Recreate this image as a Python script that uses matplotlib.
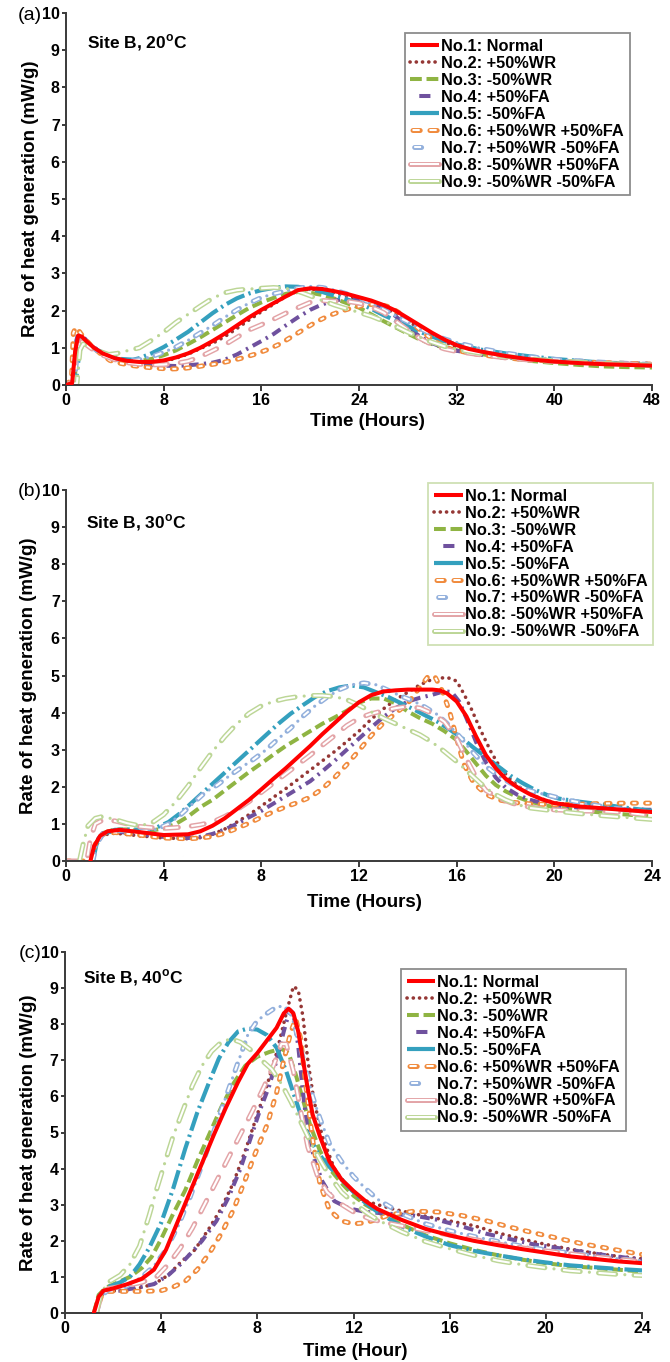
import matplotlib
matplotlib.use('Agg')
import matplotlib.pyplot as plt
from matplotlib.lines import Line2D

plt.rcParams['font.family'] = ['Liberation Sans', 'DejaVu Sans']
plt.rcParams['font.weight'] = 'bold'
plt.rcParams['lines.scale_dashes'] = False
plt.rcParams['mathtext.fontset'] = 'custom'
plt.rcParams['mathtext.rm'] = 'Liberation Sans'
plt.rcParams['mathtext.bf'] = 'Liberation Sans:bold'

labels = ['No.1: Normal', 'No.2: +50%WR', 'No.3: -50%WR', 'No.4: +50%FA',
          'No.5: -50%FA', 'No.6: +50%WR +50%FA', 'No.7: +50%WR -50%FA',
          'No.8: -50%WR +50%FA', 'No.9: -50%WR -50%FA']
colors = ['#FF0000', '#953735', '#8FB443', '#6F519E', '#34A0BE',
          '#F08A3C', '#93B0DC', '#E3A4A7', '#BCD696']

# ---- (a) Site B, 20 C ----
a1_t = [0, 0.5, 0.75, 1.0, 1.3, 1.7, 2.3, 3, 4, 5, 6, 7, 8, 9, 10, 11, 12, 13, 14, 15, 16, 17, 18, 19, 20, 21, 22, 23, 24, 25, 26, 27, 28, 29, 30, 31, 32, 33, 34, 36, 38, 40, 42, 44, 46, 48]
a1_q = [0, 0.05, 0.9, 1.33, 1.3, 1.17, 1.0, 0.85, 0.72, 0.65, 0.62, 0.62, 0.66, 0.74, 0.85, 1.0, 1.18, 1.38, 1.6, 1.82, 2.02, 2.2, 2.38, 2.55, 2.6, 2.58, 2.52, 2.45, 2.36, 2.27, 2.15, 2.0, 1.8, 1.6, 1.4, 1.22, 1.07, 0.97, 0.9, 0.78, 0.69, 0.63, 0.59, 0.56, 0.54, 0.52]
a2_t = [0, 0.6, 0.85, 1.1, 1.5, 2.3, 3, 4, 5, 6, 7, 8, 9, 10, 11, 12, 13, 14, 15, 16, 17, 18, 19, 20, 21, 22, 23, 24, 25, 26, 27, 28, 29, 30, 31, 32, 34, 36, 38, 40, 44, 48]
a2_q = [0, 0.1, 1.1, 1.3, 1.2, 1.0, 0.85, 0.7, 0.63, 0.6, 0.6, 0.63, 0.72, 0.83, 0.98, 1.12, 1.3, 1.52, 1.75, 1.97, 2.17, 2.38, 2.53, 2.58, 2.55, 2.48, 2.4, 2.3, 2.2, 2.08, 1.92, 1.72, 1.52, 1.33, 1.16, 1.02, 0.86, 0.76, 0.69, 0.64, 0.58, 0.55]
a3_t = [0, 0.7, 0.95, 1.2, 1.6, 2.3, 3, 4, 5, 6, 7, 8, 9, 10, 11, 12, 13, 14, 15, 16, 17, 18, 19, 20, 21, 22, 23, 24, 25, 26, 27, 28, 29, 30, 31, 32, 34, 36, 38, 40, 42, 44, 46, 48]
a3_q = [0, 0.1, 1.15, 1.25, 1.15, 0.98, 0.85, 0.72, 0.65, 0.64, 0.7, 0.8, 0.93, 1.1, 1.28, 1.48, 1.68, 1.88, 2.07, 2.22, 2.34, 2.45, 2.5, 2.48, 2.42, 2.32, 2.2, 2.08, 1.9, 1.72, 1.55, 1.38, 1.22, 1.1, 1.0, 0.93, 0.83, 0.74, 0.65, 0.59, 0.54, 0.5, 0.48, 0.47]
a4_t = [0, 0.6, 0.85, 1.05, 1.4, 2, 3, 4, 5, 6, 7, 8, 9, 10, 11, 12, 13, 14, 15, 16, 17, 18, 19, 20, 21, 22, 23, 24, 25, 26, 27, 28, 29, 30, 31, 32, 34, 36, 38, 40, 44, 48]
a4_q = [0, 0.1, 1.2, 1.45, 1.3, 1.08, 0.85, 0.7, 0.62, 0.57, 0.54, 0.52, 0.51, 0.53, 0.56, 0.6, 0.68, 0.82, 1.0, 1.18, 1.37, 1.6, 1.82, 2.02, 2.17, 2.27, 2.32, 2.3, 2.22, 2.08, 1.85, 1.55, 1.3, 1.12, 1.0, 0.92, 0.81, 0.74, 0.68, 0.64, 0.6, 0.57]
a5_t = [0, 0.8, 1.1, 1.4, 1.8, 2.5, 3.5, 4.5, 5.5, 6, 7, 8, 9, 10, 11, 12, 13, 14, 15, 16, 17, 18, 19, 20, 21, 22, 23, 24, 25, 26, 27, 28, 29, 30, 31, 32, 34, 36, 38, 40, 42, 44, 46, 48]
a5_q = [0, 0.05, 0.9, 1.12, 1.08, 0.95, 0.8, 0.7, 0.68, 0.72, 0.85, 1.02, 1.22, 1.43, 1.68, 1.93, 2.15, 2.33, 2.46, 2.55, 2.61, 2.65, 2.64, 2.58, 2.5, 2.4, 2.3, 2.2, 2.05, 1.88, 1.73, 1.58, 1.43, 1.3, 1.18, 1.09, 0.95, 0.85, 0.77, 0.7, 0.65, 0.6, 0.56, 0.52]
a6_t = [0, 0.45, 0.6, 0.8, 1.0, 1.4, 2, 2.8, 3.6, 4.5, 5.5, 6.5, 7.5, 8.5, 9.5, 10.5, 11.5, 12.5, 13.5, 14.5, 15.5, 16.5, 17.5, 18.5, 19.5, 20.5, 21.5, 22.5, 23.5, 24.5, 25.5, 26.5, 27.5, 28.5, 29.5, 30.5, 31.5, 33, 35, 37, 40, 44, 48]
a6_q = [0, 0.15, 1.4, 1.55, 1.48, 1.3, 1.08, 0.85, 0.66, 0.58, 0.52, 0.48, 0.45, 0.43, 0.44, 0.48, 0.53, 0.58, 0.65, 0.73, 0.83, 0.95, 1.1, 1.3, 1.5, 1.7, 1.86, 1.98, 2.08, 2.15, 2.18, 2.1, 1.9, 1.62, 1.35, 1.12, 0.97, 0.86, 0.77, 0.7, 0.64, 0.6, 0.56]
a7_t = [0, 0.7, 0.95, 1.2, 1.6, 2.3, 3, 4, 5, 6, 7, 8, 9, 10, 11, 12, 13, 14, 15, 16, 17, 18, 19, 20, 21, 22, 23, 24, 25, 26, 27, 28, 29, 30, 31, 32, 34, 36, 38, 40, 44, 48]
a7_q = [0, 0.05, 1.0, 1.25, 1.15, 0.98, 0.82, 0.7, 0.65, 0.68, 0.76, 0.88, 1.02, 1.2, 1.4, 1.6, 1.82, 2.02, 2.2, 2.35, 2.45, 2.53, 2.6, 2.65, 2.62, 2.55, 2.45, 2.35, 2.2, 2.03, 1.86, 1.7, 1.52, 1.36, 1.24, 1.14, 0.98, 0.86, 0.76, 0.69, 0.61, 0.55]
a8_t = [0, 0.6, 0.85, 1.1, 1.5, 2.2, 3, 4, 5, 6, 7, 8, 9, 10, 11, 12, 13, 14, 15, 16, 17, 18, 19, 20, 21, 22, 23, 24, 25, 26, 27, 28, 29, 30, 31, 32, 34, 36, 38, 40, 44, 48]
a8_q = [0, 0.1, 1.05, 1.2, 1.12, 0.95, 0.8, 0.68, 0.6, 0.56, 0.54, 0.55, 0.58, 0.64, 0.76, 0.92, 1.08, 1.28, 1.48, 1.62, 1.77, 1.93, 2.08, 2.22, 2.27, 2.25, 2.25, 2.2, 2.1, 1.95, 1.72, 1.48, 1.25, 1.08, 0.97, 0.9, 0.81, 0.73, 0.67, 0.63, 0.58, 0.55]
a9_t = [0, 0.9, 1.15, 1.4, 1.9, 2.6, 3.5, 4.2, 5, 6, 7, 8, 9, 10, 11, 12, 13, 14, 15, 16, 17, 18, 19, 20, 21, 22, 23, 24, 25, 26, 27, 28, 29, 30, 31, 32, 34, 36, 38, 40, 44, 48]
a9_q = [0, 0.05, 0.95, 1.1, 1.05, 0.92, 0.82, 0.85, 0.92, 1.0, 1.2, 1.42, 1.68, 1.9, 2.12, 2.33, 2.48, 2.55, 2.58, 2.6, 2.62, 2.6, 2.52, 2.4, 2.27, 2.15, 2.05, 1.95, 1.85, 1.72, 1.58, 1.42, 1.28, 1.15, 1.04, 0.96, 0.85, 0.77, 0.7, 0.65, 0.58, 0.53]

# ---- (b) Site B, 30 C ----
b1_t = [1.0, 1.15, 1.4, 1.7, 2.2, 3, 4, 5, 5.5, 6, 6.5, 7, 7.5, 8, 8.5, 9, 9.5, 10, 10.5, 11, 11.5, 12, 12.5, 13, 13.5, 14, 14.5, 15, 15.3, 15.6, 16, 16.4, 16.8, 17.2, 17.6, 18, 18.5, 19, 19.5, 20, 21, 22, 23, 24]
b1_q = [0, 0.4, 0.68, 0.8, 0.84, 0.78, 0.7, 0.72, 0.8, 0.95, 1.15, 1.4, 1.65, 1.93, 2.22, 2.5, 2.8, 3.1, 3.42, 3.72, 4.02, 4.28, 4.47, 4.57, 4.6, 4.62, 4.62, 4.62, 4.6, 4.52, 4.3, 3.9, 3.35, 2.85, 2.5, 2.22, 1.98, 1.8, 1.66, 1.56, 1.47, 1.42, 1.37, 1.32]
b2_t = [1.05, 1.2, 1.5, 2, 3, 4, 5, 5.5, 6, 6.5, 7, 7.5, 8, 8.5, 9, 9.5, 10, 10.5, 11, 11.5, 12, 12.5, 13, 13.5, 14, 14.5, 15, 15.6, 16, 16.3, 16.6, 17, 17.4, 17.8, 18.2, 18.6, 19, 19.5, 20, 21, 22, 23, 24]
b2_q = [0, 0.45, 0.7, 0.75, 0.68, 0.62, 0.6, 0.63, 0.72, 0.86, 1.05, 1.25, 1.48, 1.72, 1.95, 2.2, 2.45, 2.7, 2.95, 3.22, 3.5, 3.82, 4.1, 4.35, 4.55, 4.75, 4.9, 4.95, 4.85, 4.5, 4.1, 3.5, 2.95, 2.5, 2.2, 1.98, 1.8, 1.67, 1.57, 1.48, 1.43, 1.4, 1.38]
b3_t = [1.05, 1.2, 1.5, 2, 2.5, 3, 3.5, 4, 4.5, 5, 5.5, 6, 6.5, 7, 7.5, 8, 8.5, 9, 9.5, 10, 10.5, 11, 11.5, 12, 12.5, 13, 13.5, 14, 14.5, 15, 15.5, 16, 16.4, 16.8, 17.2, 17.6, 18, 18.5, 19, 19.5, 20, 21, 22, 23, 24]
b3_q = [0, 0.45, 0.75, 0.85, 0.85, 0.8, 0.82, 0.88, 1.0, 1.2, 1.45, 1.65, 1.9, 2.15, 2.4, 2.63, 2.87, 3.1, 3.3, 3.5, 3.7, 3.87, 4.05, 4.27, 4.38, 4.38, 4.25, 4.03, 3.85, 3.7, 3.5, 3.26, 2.95, 2.62, 2.3, 2.05, 1.88, 1.72, 1.6, 1.52, 1.45, 1.37, 1.3, 1.25, 1.2]
b4_t = [1.05, 1.2, 1.5, 2, 3, 4, 5, 5.5, 6, 6.5, 7, 7.5, 8, 8.5, 9, 9.5, 10, 10.5, 11, 11.5, 12, 12.5, 13, 13.5, 14, 14.5, 15, 15.5, 15.8, 16.1, 16.4, 16.8, 17.2, 17.6, 18, 18.5, 19, 19.5, 20, 21, 22, 23, 24]
b4_q = [0, 0.5, 0.75, 0.8, 0.72, 0.65, 0.62, 0.65, 0.73, 0.85, 1.0, 1.18, 1.35, 1.55, 1.75, 1.95, 2.15, 2.42, 2.7, 3.0, 3.3, 3.6, 3.88, 4.12, 4.3, 4.4, 4.48, 4.58, 4.55, 4.3, 3.85, 3.2, 2.65, 2.25, 1.98, 1.78, 1.65, 1.56, 1.5, 1.44, 1.41, 1.39, 1.38]
b5_t = [1.1, 1.25, 1.5, 2, 2.6, 3.2, 3.7, 4.2, 4.7, 5.2, 5.7, 6.2, 6.7, 7.2, 7.7, 8.2, 8.7, 9.2, 9.7, 10.2, 10.7, 11.2, 11.7, 12.2, 12.7, 13.2, 13.7, 14.2, 14.7, 15.2, 15.7, 16.2, 16.7, 17.2, 17.7, 18.2, 18.7, 19.2, 19.7, 20.2, 21, 22, 23, 24]
b5_q = [0, 0.45, 0.72, 0.84, 0.85, 0.84, 0.9, 1.05, 1.3, 1.6, 1.9, 2.2, 2.5, 2.8, 3.1, 3.4, 3.7, 3.97, 4.2, 4.42, 4.58, 4.68, 4.73, 4.68, 4.55, 4.42, 4.26, 4.1, 3.93, 3.76, 3.55, 3.32, 3.05, 2.8, 2.55, 2.3, 2.1, 1.92, 1.78, 1.68, 1.6, 1.52, 1.43, 1.35]
b6_t = [0, 0.6, 1.05, 1.2, 1.5, 2, 3, 4, 5, 5.5, 6, 6.5, 7, 7.5, 8, 8.5, 9, 9.5, 10, 10.5, 11, 11.5, 12, 12.5, 13, 13.5, 14, 14.4, 14.8, 15.1, 15.4, 15.7, 16, 16.3, 16.7, 17.2, 17.7, 18.3, 19, 20, 21, 22, 23, 24]
b6_q = [0, 0, 0, 0.45, 0.72, 0.77, 0.7, 0.62, 0.6, 0.62, 0.66, 0.75, 0.88, 1.02, 1.18, 1.33, 1.46, 1.58, 1.72, 1.95, 2.25, 2.6, 2.98, 3.38, 3.72, 3.98, 4.25, 4.6, 4.95, 4.98, 4.6, 4.05, 3.3, 2.6, 2.1, 1.8, 1.65, 1.58, 1.54, 1.52, 1.53, 1.55, 1.56, 1.56]
b7_t = [1.1, 1.25, 1.5, 2, 3, 3.7, 4.2, 4.7, 5.2, 5.7, 6.2, 6.7, 7.2, 7.7, 8.2, 8.7, 9.2, 9.7, 10.2, 10.7, 11.2, 11.7, 12.2, 12.7, 13.2, 13.7, 14.2, 14.7, 15.2, 15.7, 16.2, 16.7, 17.2, 17.7, 18.2, 18.7, 19.2, 19.7, 20.5, 21.5, 22.5, 24]
b7_q = [0, 0.45, 0.72, 0.83, 0.8, 0.85, 1.0, 1.25, 1.55, 1.85, 2.05, 2.3, 2.53, 2.75, 3.0, 3.3, 3.58, 3.9, 4.18, 4.42, 4.62, 4.75, 4.8, 4.75, 4.6, 4.45, 4.32, 4.15, 3.95, 3.65, 3.3, 2.9, 2.55, 2.3, 2.1, 1.95, 1.86, 1.78, 1.65, 1.52, 1.42, 1.3]
b8_t = [0, 0.5, 0.85, 1.0, 1.2, 1.5, 2, 2.5, 3, 3.5, 4, 4.5, 5, 5.5, 6, 6.5, 7, 7.5, 8, 8.5, 9, 9.5, 10, 10.5, 11, 11.5, 12, 12.5, 13, 13.5, 14, 14.5, 15, 15.5, 16, 16.4, 16.8, 17.2, 17.7, 18.3, 19, 20, 21, 22, 23, 24]
b8_q = [0, 0, 0, 0.6, 1.0, 1.1, 1.08, 1.0, 0.93, 0.9, 0.88, 0.9, 0.93, 0.98, 1.05, 1.2, 1.38, 1.6, 1.85, 2.1, 2.35, 2.6, 2.85, 3.12, 3.38, 3.65, 3.85, 3.97, 4.05, 4.12, 4.17, 4.12, 3.98, 3.75, 3.3, 2.75, 2.25, 1.9, 1.7, 1.55, 1.45, 1.38, 1.35, 1.34, 1.3, 1.22]
b9_t = [0.55, 0.7, 0.9, 1.2, 1.5, 2, 2.5, 3, 3.5, 4, 4.5, 5, 5.5, 6, 6.5, 7, 7.5, 8, 8.5, 9, 9.5, 10, 10.5, 11, 11.5, 12, 12.5, 13, 13.5, 14, 14.5, 15, 15.5, 16, 16.5, 17, 17.5, 18, 18.5, 19, 20, 21, 22, 23, 24]
b9_q = [0, 0.45, 0.95, 1.15, 1.2, 1.12, 1.02, 0.95, 1.02, 1.25, 1.6, 2.02, 2.5, 2.95, 3.35, 3.7, 3.98, 4.18, 4.3, 4.38, 4.43, 4.46, 4.46, 4.43, 4.35, 4.2, 4.02, 3.85, 3.7, 3.55, 3.4, 3.2, 2.95, 2.68, 2.38, 2.08, 1.82, 1.65, 1.52, 1.43, 1.35, 1.28, 1.22, 1.17, 1.12]

# ---- (c) Site B, 40 C ----
c1_t = [1.2, 1.4, 1.6, 2, 2.6, 3.2, 3.7, 4.2, 4.7, 5.2, 5.7, 6.2, 6.7, 7.2, 7.6, 8.0, 8.4, 8.8, 9.1, 9.3, 9.5, 9.7, 9.9, 10.1, 10.3, 10.6, 11.0, 11.5, 12, 12.5, 13, 14, 15, 16, 17, 18, 19, 20, 21, 22, 23, 24]
c1_q = [0, 0.45, 0.62, 0.68, 0.8, 0.95, 1.2, 1.75, 2.55, 3.35, 4.15, 4.95, 5.7, 6.4, 6.9, 7.2, 7.55, 7.9, 8.3, 8.43, 8.3, 7.8, 7.0, 6.2, 5.5, 4.9, 4.2, 3.7, 3.38, 3.1, 2.88, 2.58, 2.33, 2.15, 2.0, 1.88, 1.77, 1.67, 1.57, 1.5, 1.43, 1.38]
c2_t = [1.25, 1.45, 1.7, 2.3, 3, 3.7, 4.3, 4.8, 5.4, 6, 6.5, 7, 7.5, 7.9, 8.4, 8.8, 9.2, 9.5, 9.7, 9.9, 10.1, 10.35, 10.7, 11.2, 11.7, 12.3, 13, 13.7, 15, 16, 17, 18, 19, 20, 21, 22, 23, 24]
c2_q = [0, 0.45, 0.6, 0.62, 0.68, 0.8, 1.05, 1.4, 1.75, 2.35, 2.9, 3.6, 4.5, 5.3, 6.3, 7.2, 8.3, 9.05, 8.95, 8.2, 7.0, 5.9, 4.9, 4.0, 3.55, 3.15, 3.0, 2.87, 2.68, 2.55, 2.42, 2.22, 2.05, 1.9, 1.77, 1.66, 1.57, 1.5]
c3_t = [1.2, 1.4, 1.7, 2.2, 2.7, 3.2, 3.6, 4.0, 4.5, 5.0, 5.5, 6.0, 6.5, 7.0, 7.5, 8.0, 8.5, 9.0, 9.3, 9.6, 9.9, 10.2, 10.6, 11, 11.5, 12, 12.5, 13, 14, 15, 16, 17, 18, 19, 20, 21, 22, 23, 24]
c3_q = [0, 0.5, 0.7, 0.85, 1.0, 1.25, 1.55, 2.05, 2.75, 3.4, 4.2, 4.95, 5.7, 6.35, 6.85, 7.1, 7.23, 7.32, 7.2, 6.6, 5.9, 5.2, 4.5, 4.0, 3.6, 3.25, 3.0, 2.8, 2.45, 2.15, 1.93, 1.75, 1.6, 1.48, 1.38, 1.3, 1.25, 1.2, 1.15]
c4_t = [1.25, 1.45, 1.7, 2.3, 3, 3.7, 4.3, 4.8, 5.3, 5.7, 6.3, 6.8, 7.3, 7.7, 8.1, 8.5, 8.8, 9.1, 9.35, 9.5, 9.7, 9.9, 10.1, 10.4, 10.7, 11.2, 11.8, 12.5, 13.5, 14.5, 15.5, 16.5, 17.5, 18.5, 19.5, 20.5, 21.5, 22.5, 23.5, 24]
c4_q = [0, 0.45, 0.6, 0.62, 0.7, 0.8, 1.05, 1.35, 1.7, 2.0, 2.55, 3.2, 4.0, 4.8, 5.6, 6.3, 7.0, 7.8, 8.4, 8.3, 7.4, 6.1, 5.0, 4.2, 3.65, 3.1, 2.9, 2.8, 2.75, 2.7, 2.58, 2.4, 2.2, 2.05, 1.9, 1.8, 1.7, 1.6, 1.52, 1.48]
c5_t = [1.25, 1.45, 1.8, 2.3, 2.7, 3.1, 3.5, 4.0, 4.5, 5.0, 5.5, 6.0, 6.4, 6.8, 7.2, 7.6, 8.0, 8.4, 8.8, 9.2, 9.6, 10.0, 10.5, 11, 11.5, 12, 12.5, 13, 14, 15, 16, 17, 18, 19, 20, 21, 22, 23, 24]
c5_q = [0, 0.5, 0.72, 0.85, 1.0, 1.35, 1.8, 2.5, 3.45, 4.55, 5.55, 6.4, 7.05, 7.5, 7.8, 7.88, 7.85, 7.7, 7.35, 6.7, 5.9, 5.1, 4.45, 4.05, 3.7, 3.35, 3.05, 2.8, 2.4, 2.12, 1.88, 1.72, 1.6, 1.49, 1.4, 1.32, 1.27, 1.22, 1.18]
c6_t = [1.3, 1.5, 1.8, 2.5, 3.3, 4.0, 4.5, 5.0, 5.5, 6.0, 6.5, 7.0, 7.5, 7.9, 8.4, 8.8, 9.1, 9.4, 9.6, 9.8, 10.0, 10.3, 10.6, 11.0, 11.5, 12, 12.5, 13, 13.5, 14.5, 15.5, 16.5, 17.5, 18.5, 19.5, 20.5, 21.5, 22.5, 23.5, 24]
c6_q = [0, 0.45, 0.6, 0.6, 0.6, 0.62, 0.72, 0.88, 1.2, 1.65, 2.2, 2.85, 3.7, 4.4, 5.2, 6.1, 7.0, 7.8, 8.15, 7.6, 6.4, 4.8, 3.6, 2.85, 2.55, 2.47, 2.5, 2.6, 2.72, 2.82, 2.8, 2.7, 2.56, 2.38, 2.22, 2.07, 1.92, 1.8, 1.68, 1.62]
c7_t = [1.3, 1.5, 1.8, 2.5, 3.2, 3.7, 4.2, 4.7, 5.2, 5.7, 6.2, 6.7, 7.2, 7.6, 8.0, 8.4, 8.8, 9.1, 9.4, 9.7, 10.0, 10.3, 10.6, 11.0, 11.5, 12, 12.5, 13, 14, 15, 16, 17, 18, 19, 20, 21, 22, 23, 24]
c7_q = [0, 0.45, 0.65, 0.72, 1.0, 1.3, 1.75, 2.4, 3.2, 4.1, 5.05, 6.0, 6.95, 7.7, 8.1, 8.3, 8.48, 8.5, 8.3, 7.6, 6.8, 6.0, 5.4, 4.7, 4.2, 3.78, 3.45, 3.15, 2.75, 2.47, 2.28, 2.12, 1.98, 1.85, 1.75, 1.66, 1.58, 1.5, 1.45]
c8_t = [1.3, 1.5, 1.8, 2.5, 3.2, 3.8, 4.3, 4.8, 5.3, 5.8, 6.3, 6.8, 7.3, 7.8, 8.3, 8.7, 9.0, 9.2, 9.5, 9.8, 10.1, 10.5, 10.9, 11.4, 12, 12.7, 13.5, 14.5, 15.5, 16.5, 17.5, 18.5, 19.5, 20.5, 21.5, 22.5, 24]
c8_q = [0, 0.45, 0.68, 0.75, 0.85, 1.0, 1.35, 1.8, 2.35, 3.0, 3.65, 4.3, 4.95, 5.6, 6.3, 6.9, 7.45, 7.45, 6.7, 5.6, 4.6, 3.8, 3.35, 3.05, 2.8, 2.6, 2.48, 2.35, 2.22, 2.1, 1.98, 1.85, 1.76, 1.68, 1.6, 1.52, 1.42]
c9_t = [1.3, 1.5, 1.8, 2.3, 2.7, 3.1, 3.5, 3.8, 4.1, 4.5, 4.9, 5.3, 5.7, 6.1, 6.5, 6.9, 7.3, 7.7, 8.1, 8.6, 9.0, 9.4, 9.8, 10.2, 10.6, 11, 11.5, 12, 12.5, 13, 14, 15, 16, 17, 18, 19, 20, 21, 22, 23, 24]
c9_q = [0, 0.55, 0.85, 1.05, 1.35, 1.85, 2.7, 3.4, 4.05, 4.9, 5.6, 6.3, 6.85, 7.25, 7.5, 7.6, 7.5, 7.3, 7.05, 6.75, 6.35, 5.85, 5.3, 4.75, 4.25, 3.8, 3.35, 3.05, 2.8, 2.58, 2.25, 1.98, 1.78, 1.6, 1.45, 1.34, 1.25, 1.17, 1.12, 1.07, 1.04]

panel_a = [(a1_t, a1_q), (a2_t, a2_q), (a3_t, a3_q), (a4_t, a4_q), (a5_t, a5_q),
           (a6_t, a6_q), (a7_t, a7_q), (a8_t, a8_q), (a9_t, a9_q)]
panel_b = [(b1_t, b1_q), (b2_t, b2_q), (b3_t, b3_q), (b4_t, b4_q), (b5_t, b5_q),
           (b6_t, b6_q), (b7_t, b7_q), (b8_t, b8_q), (b9_t, b9_q)]
panel_c = [(c1_t, c1_q), (c2_t, c2_q), (c3_t, c3_q), (c4_t, c4_q), (c5_t, c5_q),
           (c6_t, c6_q), (c7_t, c7_q), (c8_t, c8_q), (c9_t, c9_q)]

# plain series: width, dash pattern, capstyle
plain = {
    1: (2.6, (0.1, 4.7), 'round'),
    2: (2.9, (7.5, 3.5), 'butt'),
    3: (2.9, (7, 3.8, 1.6, 3.8), 'butt'),
    4: (3.0, (14, 3.2, 1.6, 3.2), 'butt'),
}
# hollow series: outer width, inner width, dash length, gap, dotted gap?
hollow = {
    5: (3.6, 1.5, 2.9, 6.6, False),
    6: (3.6, 1.5, 5.0, 5.6, True),
    7: (3.6, 1.5, 9.4, 9.4, False),
    8: (3.6, 1.5, 12.4, 6.6, True),
}


def draw_series(ax, t, q, k):
    z = 2 + k * 0.01
    c = colors[k]
    if k == 0:
        ax.plot(t, q, color=c, lw=2.9, solid_capstyle='round', solid_joinstyle='round', zorder=5)
    elif k in plain:
        lw, pat, cap = plain[k]
        ax.plot(t, q, color=c, lw=lw, linestyle=(0, pat), dash_capstyle=cap,
                dash_joinstyle='round', zorder=z)
    else:
        lwo, lwi, on, gap, dotted = hollow[k]
        period = on + (2 * gap if dotted else gap)
        ax.plot(t, q, color=c, lw=lwo, linestyle=(0, (on, period - on)), dash_capstyle='round',
                dash_joinstyle='round', zorder=z)
        ax.plot(t, q, color='white', lw=lwi, linestyle=(0, (on, period - on)), dash_capstyle='butt',
                dash_joinstyle='round', zorder=z + 0.001)
        if dotted:
            ax.plot(t, q, color=c, lw=2.3, linestyle=(period - on - gap, (0.01, period - 0.01)),
                    dash_capstyle='round', zorder=z + 0.002)


def legend_handles():
    h = []
    h.append(Line2D([], [], color=colors[0], lw=2.9, solid_capstyle='butt'))
    h.append(Line2D([], [], color=colors[1], lw=2.6, linestyle=(0, (0.1, 4.4)), dash_capstyle='round'))
    h.append(Line2D([], [], color=colors[2], lw=2.9, linestyle=(0, (8.5, 3.4))))
    h.append(Line2D([], [], color=colors[3], lw=2.9, linestyle=(13.7, (8, 12.4))))
    h.append(Line2D([], [], color=colors[4], lw=3.0, solid_capstyle='butt'))
    h.append((Line2D([], [], color=colors[5], lw=3.6, linestyle=(-1.8, (5.2, 7.0)), dash_capstyle='round'),
              Line2D([], [], color='white', lw=1.5, linestyle=(-1.8, (5.2, 7.0)), dash_capstyle='butt')))
    h.append((Line2D([], [], color=colors[6], lw=3.6, linestyle=(32, (5, 30)), dash_capstyle='round'),
              Line2D([], [], color='white', lw=1.5, linestyle=(32, (5, 30)), dash_capstyle='butt')))
    h.append((Line2D([], [], color=colors[7], lw=3.6, solid_capstyle='round'),
              Line2D([], [], color='white', lw=1.5, solid_capstyle='butt')))
    h.append((Line2D([], [], color=colors[8], lw=3.6, solid_capstyle='round'),
              Line2D([], [], color='white', lw=1.5, solid_capstyle='butt')))
    return h


def style_axes(ax, xmax, xstep, xlabel, site, tx, ty, ylx, xlx, xly):
    ax.set_xlim(0, xmax)
    ax.set_ylim(0, 10)
    ax.set_xticks(range(0, xmax + 1, xstep))
    ax.set_yticks(range(0, 11))
    for s in ['top', 'right']:
        ax.spines[s].set_visible(False)
    for s in ['left', 'bottom']:
        ax.spines[s].set_color('#3a3a3a')
        ax.spines[s].set_linewidth(1.4)
    ax.tick_params(axis='x', direction='out', length=4, width=1.4, color='#3a3a3a',
                   labelsize=11.5, pad=2)
    ax.tick_params(axis='y', direction='out', length=3, width=1.4, color='#3a3a3a',
                   labelsize=11.5, pad=1.5)
    ax.set_xlabel(xlabel, fontsize=13.5, fontweight='bold')
    ax.set_ylabel('Rate of heat generation (mW/g)', fontsize=13.5, fontweight='bold')
    ax.xaxis.set_label_coords(xlx, xly)
    ax.yaxis.set_label_coords(ylx, 0.5)
    ax.text(tx, ty, site, transform=ax.transAxes, fontsize=12.5, fontweight='bold',
            ha='left', va='center')


fig = plt.figure(figsize=(6.7, 13.62), dpi=100)
ax_a = fig.add_axes([66 / 670, 1 - 385 / 1362, 586 / 670, 372 / 1362])
ax_b = fig.add_axes([66 / 670, 1 - 861 / 1362, 586 / 670, 371 / 1362])
ax_c = fig.add_axes([65 / 670, 1 - 1313 / 1362, 577 / 670, 361 / 1362])

for ax, data in [(ax_a, panel_a), (ax_b, panel_b), (ax_c, panel_c)]:
    for k, (t, q) in enumerate(data):
        draw_series(ax, t, q, k)

style_axes(ax_a, 48, 8, 'Time (Hours)', r'Site B, 20$^{\mathbf{o}}$C', 0.035, 0.919, -0.046, 0.514, -0.075)
style_axes(ax_b, 24, 4, 'Time (Hours)', r'Site B, 30$^{\mathbf{o}}$C', 0.034, 0.911, -0.049, 0.51, -0.09)
style_axes(ax_c, 24, 4, 'Time (Hour)', r'Site B, 40$^{\mathbf{o}}$C', 0.031, 0.93, -0.049, 0.503, -0.083)

legend_places = [(ax_a, 0.578, 0.946, '#8c8c8c'), (ax_b, 0.618, 1.019, '#cfe0b4'),
                 (ax_c, 0.582, 0.953, '#8c8c8c')]
for ax, x0, y0, edge in legend_places:
    leg = ax.legend(legend_handles(), labels, loc='upper left', bbox_to_anchor=(x0, y0),
                    borderaxespad=0, frameon=True, fancybox=False, edgecolor=edge,
                    framealpha=1, fontsize=11.8, handlelength=1.75, handletextpad=0.12,
                    labelspacing=0.12, borderpad=0.35)
    leg.get_frame().set_linewidth(1.3)
    leg.set_zorder(20)

for lab, yy in [('(a)', 1 - 15 / 1362), ('(b)', 1 - 492 / 1362), ('(c)', 1 - 953 / 1362)]:
    fig.text(42 / 670, yy, lab, fontsize=14, fontweight='normal', ha='right', va='center')

fig.savefig('out.png', dpi=100)
